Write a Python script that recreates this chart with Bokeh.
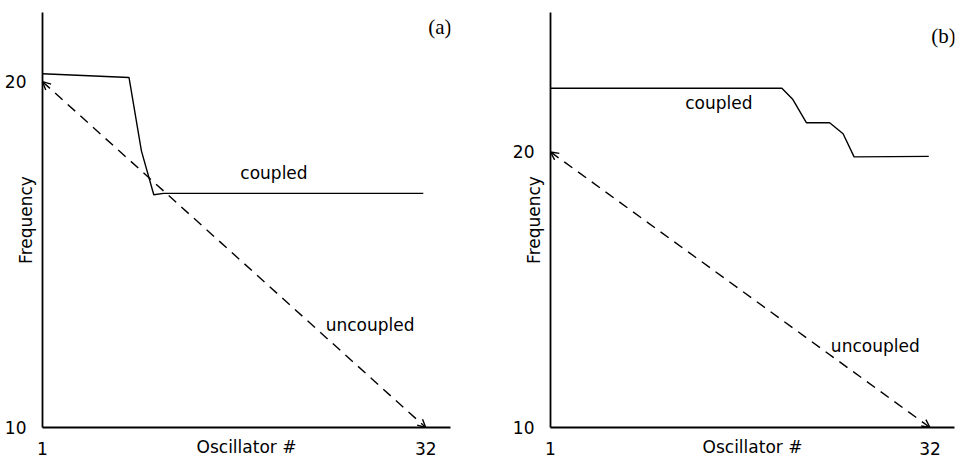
from bokeh.plotting import figure
from bokeh.models import Arrow, OpenHead, ColumnDataSource, FixedTicker, Range1d, Label
from bokeh.layouts import row
from bokeh.core.properties import value
from bokeh.embed import file_html
from bokeh.resources import INLINE

# ---- data ----
# panel (a)
a_coupled_x = [1, 8, 9, 10, 10.8, 31.8]
a_coupled_y = [20.23, 20.12, 18.0, 16.73, 16.77, 16.77]
# panel (b)
b_coupled_x = [1, 19.9, 20.8, 21.9, 23.8, 24.9, 25.8, 31.9]
b_coupled_y = [22.31, 22.31, 21.9, 21.06, 21.06, 20.66, 19.82, 19.84]
# uncoupled (both panels)
unc_x = [1, 32]
unc_y = [20, 10]

x_ticks = [1, 32]
y_ticks = [10, 20]

FONT = "DejaVu Sans"


def make_panel(width, border_left, border_right, border_top, border_bottom,
               y_end, cx, cy, coupled_lbl, uncoupled_lbl, tag, tag_pos):
    p = figure(width=width, height=460, output_backend="svg", toolbar_location=None,
               x_range=Range1d(1, 34), y_range=Range1d(10, y_end),
               x_axis_label="Oscillator #", y_axis_label="Frequency",
               min_border_left=border_left, min_border_right=border_right,
               min_border_top=border_top, min_border_bottom=border_bottom)
    p.outline_line_color = None
    p.xgrid.visible = False
    p.ygrid.visible = False
    p.background_fill_color = "white"
    p.border_fill_color = "white"

    for ax in (p.xaxis[0], p.yaxis[0]):
        ax.axis_line_width = 1.8
        ax.axis_line_color = "black"
        ax.major_tick_line_color = None
        ax.minor_tick_line_color = None
        ax.major_label_text_font = FONT
        ax.major_label_text_font_size = "17px"
        ax.major_label_text_color = "black"
        ax.axis_label_text_font = FONT
        ax.axis_label_text_font_size = "17px"
        ax.axis_label_text_font_style = "normal"
        ax.axis_label_text_color = "black"
    p.xaxis[0].ticker = FixedTicker(ticks=x_ticks)
    p.yaxis[0].ticker = FixedTicker(ticks=y_ticks)
    p.xaxis[0].major_label_standoff = 8
    p.xaxis[0].axis_label_standoff = -21
    p.yaxis[0].major_label_standoff = 10
    p.yaxis[0].axis_label_standoff = -34

    p.line(cx, cy, line_color="black", line_width=1.4)

    src = ColumnDataSource(dict(x0=[unc_x[0]], y0=[unc_y[0]], x1=[unc_x[1]], y1=[unc_y[1]]))
    p.add_layout(Arrow(start=OpenHead(size=8, line_width=1.4, line_color="black"),
                       end=OpenHead(size=8, line_width=1.4, line_color="black"),
                       x_start="x0", y_start="y0", x_end="x1", y_end="y1", source=src,
                       line_color="black", line_width=1.4, line_dash="10 7"))

    p.text(x=[coupled_lbl[0], uncoupled_lbl[0]], y=[coupled_lbl[1], uncoupled_lbl[1]],
           text=["coupled", "uncoupled"], text_font=value(FONT), text_font_size="17px",
           text_align="left", text_baseline="middle", text_color="black")
    p.add_layout(Label(x=tag_pos[0], y=tag_pos[1], text=tag, text_font="Liberation Serif",
                       text_font_size="21px", text_align="left", text_baseline="middle",
                       text_color="black"))
    return p


pa = make_panel(478, 42, 28, 12, 30, 22.0, a_coupled_x, a_coupled_y,
                (17.0, 17.35), (23.9, 12.95), "(a)", (32.2, 21.58))
pb = make_panel(479, 72, 3, 10, 33, 25.06, b_coupled_x, b_coupled_y,
                (12.0, 21.78), (23.9, 12.95), "(b)", (32.1, 24.2))

p = row(pa, pb)
open("out.html", "w").write(file_html(p, INLINE))
